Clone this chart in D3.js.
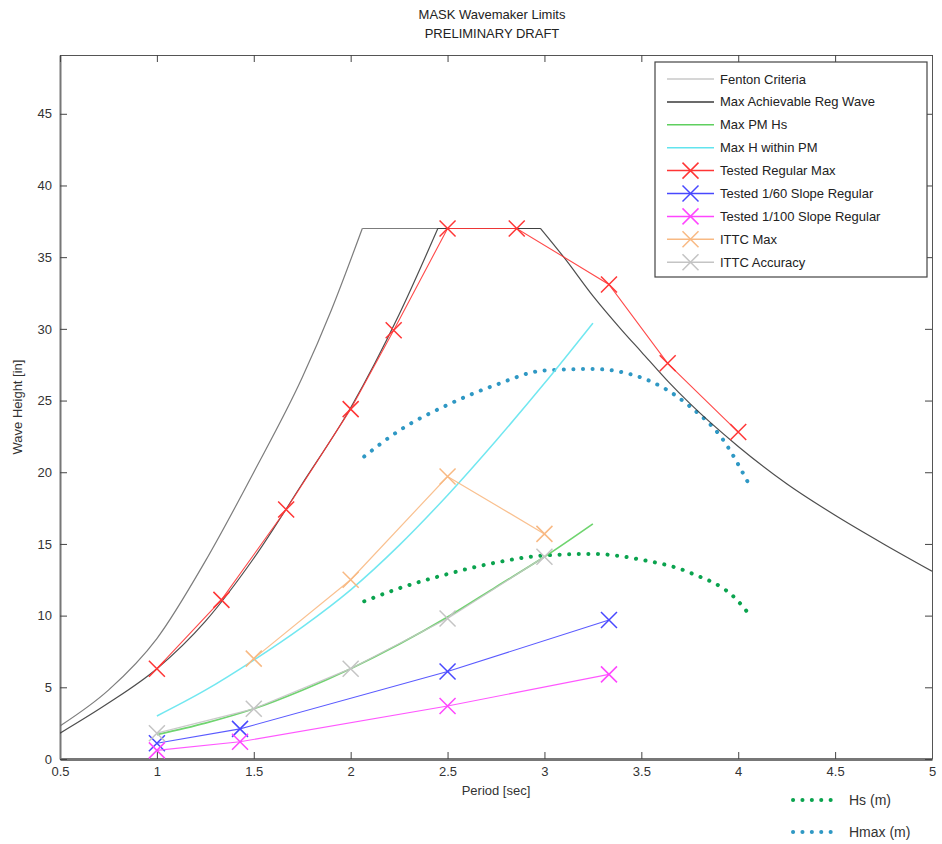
<!DOCTYPE html>
<html>
<head>
<meta charset="utf-8">
<script src="https://cdn.jsdelivr.net/npm/d3@7"></script>
<style>
  body { margin: 0; background: #fff; }
  svg { display: block; font-family: Arial, "Liberation Sans", sans-serif; }
</style>
</head>
<body>
<svg id="chart" width="942" height="844"></svg>
<script>
// ---------------- DATA ----------------
const titleLines = ["MASK Wavemaker Limits", "PRELIMINARY DRAFT"];
const xLabel = "Period [sec]";
const yLabel = "Wave Height [in]";
const xTicks = [0.5, 1, 1.5, 2, 2.5, 3, 3.5, 4, 4.5, 5];
const yTicks = [0, 5, 10, 15, 20, 25, 30, 35, 40, 45];

// Fenton Criteria (breaking limit + cap)
const fentonT = [0.5, 0.75, 1.0, 1.25, 1.5, 1.75, 1.9, 2.06, 2.98];
const fentonH = [2.3, 4.8, 8.4, 13.8, 20.0, 26.6, 31.3, 37.0, 37.0];
const fentonBreaks = [7];          // index where smooth piece ends / straight cap starts

// Max Achievable Reg Wave
const maxRegT = [0.5, 0.75, 1.0, 1.25, 1.5, 1.75, 2.0, 2.25, 2.45, 2.98, 3.1, 3.25, 3.4, 3.5, 3.64, 3.75, 4.0, 4.25, 4.5, 4.75, 5.0];
const maxRegH = [1.8, 3.9, 6.3, 9.6, 14.0, 19.2, 24.5, 31.0, 37.0, 37.0, 35.0, 32.3, 29.9, 28.4, 26.3, 24.8, 21.8, 19.2, 17.0, 15.0, 13.1];
const maxRegBreaks = [8, 9];

// Max PM Hs
const pmHsT = [1.0, 1.25, 1.5, 1.75, 2.0, 2.25, 2.5, 2.75, 3.0, 3.25];
const pmHsH = [1.7, 2.5, 3.5, 4.8, 6.3, 8.0, 9.9, 12.0, 14.1, 16.4];

// Max H within PM
const pmHT = [1.0, 1.25, 1.5, 1.75, 2.0, 2.25, 2.5, 2.75, 3.0, 3.25];
const pmHH = [3.0, 4.8, 6.9, 9.2, 11.8, 14.9, 18.4, 22.2, 26.2, 30.4];

// Tested Regular Max
const regMaxT = [1.0, 1.333, 1.667, 2.0, 2.222, 2.5, 2.857, 3.333, 3.636, 4.0];
const regMaxH = [6.3, 11.1, 17.4, 24.4, 29.9, 37.0, 37.0, 33.1, 27.6, 22.8];

// Tested 1/60 Slope Regular
const slope60T = [1.0, 1.429, 2.5, 3.333];
const slope60H = [1.1, 2.1, 6.1, 9.7];

// Tested 1/100 Slope Regular
const slope100T = [1.0, 1.429, 2.5, 3.333];
const slope100H = [0.6, 1.2, 3.7, 5.9];

// ITTC Max
const ittcMaxT = [1.5, 2.0, 2.5, 3.0];
const ittcMaxH = [7.0, 12.5, 19.7, 15.7];

// ITTC Accuracy
const ittcAccT = [1.0, 1.5, 2.0, 2.5, 3.0];
const ittcAccH = [1.8, 3.5, 6.3, 9.8, 14.1];

// Hs (m) dotted
const hsT = [2.07, 2.25, 2.5, 2.75, 3.0, 3.25, 3.5, 3.75, 4.0, 4.05];
const hsH = [11.0, 11.9, 12.9, 13.7, 14.2, 14.3, 13.9, 13.0, 11.0, 10.2];

// Hmax (m) dotted
const hmaxT = [2.07, 2.25, 2.5, 2.75, 3.0, 3.25, 3.5, 3.75, 3.92, 4.05];
const hmaxH = [21.1, 22.9, 24.7, 26.1, 27.1, 27.2, 26.6, 24.6, 22.3, 19.3];

const legendNames = ["Fenton Criteria", "Max Achievable Reg Wave", "Max PM Hs", "Max H within PM",
  "Tested Regular Max", "Tested 1/60 Slope Regular", "Tested 1/100 Slope Regular", "ITTC Max", "ITTC Accuracy"];
const bottomLegendNames = ["Hs (m)", "Hmax (m)"];

// ---------------- CHART ----------------
const zip = (a, b) => a.map((v, i) => [v, b[i]]);
const splitAt = (data, breaks) => {
  const out = []; let s = 0;
  breaks.forEach(b => { out.push(data.slice(s, b + 1)); s = b; });
  out.push(data.slice(s));
  return out;
};
const svg = d3.select("#chart");
const L = 60, R = 932, T = 55, B = 759;
const x = d3.scaleLinear().domain([0.5, 5]).range([L, R]);
const y = d3.scaleLinear().domain([0, 49.1]).range([B, T]);

svg.append("defs").append("clipPath").attr("id", "clip")
  .append("rect").attr("x", L).attr("y", T).attr("width", R - L).attr("height", B - T);

// Title
svg.selectAll("text.title").data(titleLines).join("text")
  .attr("class", "title")
  .attr("x", (L + R) / 2 - 4).attr("y", (d, i) => 19 + i * 19)
  .attr("text-anchor", "middle").attr("font-size", 13).attr("fill", "#222")
  .text(d => d);

// Axes
const fmt = d => String(d);
const gx = svg.append("g").attr("transform", `translate(0,${B})`)
  .call(d3.axisBottom(x).tickValues(xTicks).tickFormat(fmt).tickSizeInner(-7).tickSizeOuter(0).tickPadding(8));
const gy = svg.append("g").attr("transform", `translate(${L},0)`)
  .call(d3.axisLeft(y).tickValues(yTicks).tickFormat(fmt).tickSizeInner(-7).tickSizeOuter(0).tickPadding(8));
const gt = svg.append("g").attr("transform", `translate(0,${T})`)
  .call(d3.axisTop(x).tickValues(xTicks).tickFormat("").tickSizeInner(-7).tickSizeOuter(0));
const gr = svg.append("g").attr("transform", `translate(${R},0)`)
  .call(d3.axisRight(y).tickValues(yTicks).tickFormat("").tickSizeInner(-7).tickSizeOuter(0));
[gx, gy, gt, gr].forEach(g => {
  g.selectAll(".tick line").attr("stroke", "#444").attr("stroke-width", 1);
  g.selectAll(".tick text").attr("font-size", 13).attr("fill", "#333")
    .attr("font-family", "Arial, 'Liberation Sans', sans-serif");
  g.select(".domain").attr("stroke", "#555");
});
gx.select(".domain").attr("stroke", "#777").attr("stroke-width", 3);
gy.select(".domain").attr("stroke", "#777").attr("stroke-width", 2);

// Axis labels
svg.append("text").attr("x", (L + R) / 2).attr("y", 795)
  .attr("text-anchor", "middle").attr("font-size", 13).attr("fill", "#333").text(xLabel);
svg.append("text").attr("transform", `translate(22,${(T + B) / 2}) rotate(-90)`)
  .attr("text-anchor", "middle").attr("font-size", 13).attr("fill", "#333").text(yLabel);

// Series
const line = d3.line().x(d => x(d[0])).y(d => y(d[1]));
const curve = d3.line().x(d => x(d[0])).y(d => y(d[1])).curve(d3.curveMonotoneX);
const plot = svg.append("g").attr("clip-path", "url(#clip)");

const series = [
  { name: legendNames[0], pieces: splitAt(zip(fentonT, fentonH), fentonBreaks), color: "#6e6e6e", width: 1.2, gen: curve, marker: false },
  { name: legendNames[1], pieces: splitAt(zip(maxRegT, maxRegH), maxRegBreaks), color: "#3a3a3a", width: 1.2, gen: curve, marker: false },
  { name: legendNames[2], data: zip(pmHsT, pmHsH), color: "#5fcf5f", width: 1.7, gen: curve, marker: false },
  { name: legendNames[3], data: zip(pmHT, pmHH), color: "#62e4ee", width: 1.5, gen: curve, marker: false },
  { name: legendNames[4], data: zip(regMaxT, regMaxH), color: "#ff3535", width: 1.1, gen: line, marker: true },
  { name: legendNames[5], data: zip(slope60T, slope60H), color: "#4848ff", width: 1.1, gen: line, marker: true },
  { name: legendNames[6], data: zip(slope100T, slope100H), color: "#ff45ff", width: 1.1, gen: line, marker: true },
  { name: legendNames[7], data: zip(ittcMaxT, ittcMaxH), color: "#f8b983", width: 1.2, gen: line, marker: true },
  { name: legendNames[8], data: zip(ittcAccT, ittcAccH), color: "#c4c4c4", width: 1.2, gen: line, marker: true }
];

// dotted series first (under)
const dotted = [
  { name: bottomLegendNames[0], data: zip(hsT, hsH), color: "#0aa34e" },
  { name: bottomLegendNames[1], data: zip(hmaxT, hmaxH), color: "#2f98c4" }
];
dotted.forEach(s => {
  plot.append("path").datum(s.data).attr("d", curve).attr("fill", "none")
    .attr("stroke", s.color).attr("stroke-width", 4).attr("stroke-linecap", "round")
    .attr("stroke-dasharray", "0.1 9.5");
});

const xMark = (g, cx, cy, s, color, sw) => {
  g.append("path")
    .attr("d", `M${cx - s},${cy - s}L${cx + s},${cy + s}M${cx - s},${cy + s}L${cx + s},${cy - s}`)
    .attr("stroke", color).attr("stroke-width", sw).attr("fill", "none");
};

series.forEach(s => {
  const pieces = s.pieces || [s.data];
  pieces.forEach(p => {
    plot.append("path").datum(p).attr("d", s.gen).attr("fill", "none")
      .attr("stroke", s.color).attr("stroke-width", s.width).attr("opacity", 0.9);
  });
  if (s.marker) {
    s.data.forEach(d => xMark(plot, x(d[0]), y(d[1]), 8, s.color, 1.5));
  }
});

// Legend box
const lg = svg.append("g");
const lx = 655, ly = 62, lw = 272, lh = 215;
lg.append("rect").attr("x", lx).attr("y", ly).attr("width", lw).attr("height", lh)
  .attr("fill", "#fff").attr("stroke", "#444").attr("stroke-width", 1.2);
series.forEach((s, i) => {
  const cy = 79 + i * 22.9;
  lg.append("line").attr("x1", 667).attr("x2", 714).attr("y1", cy).attr("y2", cy)
    .attr("stroke", i === 0 ? "#c8c8c8" : s.color).attr("stroke-width", 1.5);
  if (s.marker) xMark(lg, 690.5, cy, 8, s.color, 1.5);
  lg.append("text").attr("x", 720).attr("y", cy + 4.5).attr("font-size", 13)
    .attr("fill", "#222").text(s.name);
});

// Bottom legend for dotted series
dotted.forEach((s, i) => {
  const cy = 800 + i * 32;
  svg.append("line").attr("x1", 793).attr("x2", 840).attr("y1", cy).attr("y2", cy)
    .attr("stroke", s.color).attr("stroke-width", 4).attr("stroke-linecap", "round")
    .attr("stroke-dasharray", "0.1 9.3");
  svg.append("text").attr("x", 849).attr("y", cy + 5).attr("font-size", 14)
    .attr("fill", "#333").text(s.name);
});
</script>
</body>
</html>
